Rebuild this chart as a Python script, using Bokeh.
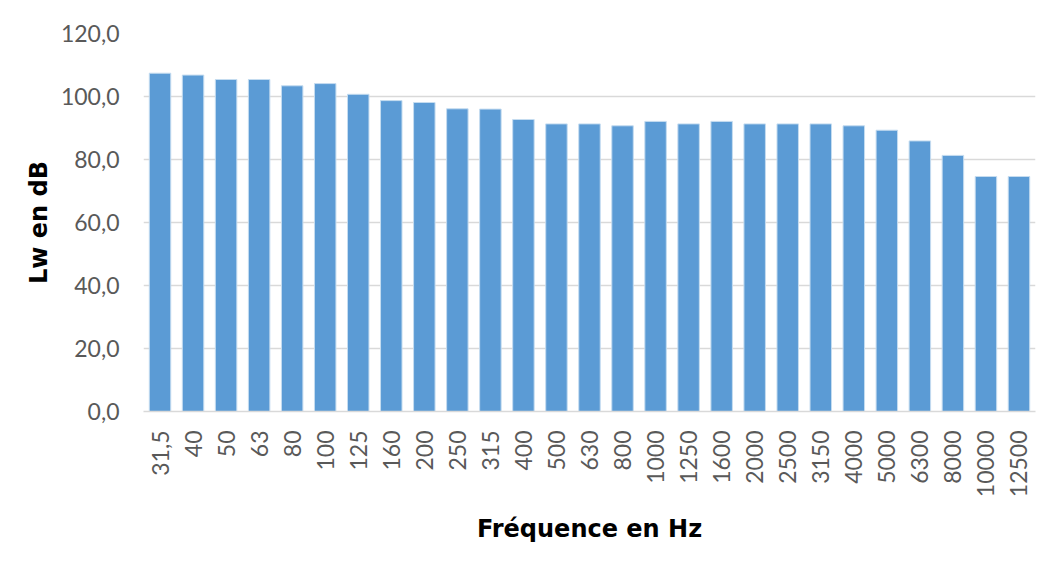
import math
from bokeh.plotting import figure
from bokeh.models import ColumnDataSource, FactorRange, Range1d, FixedTicker
from bokeh.embed import file_html
from bokeh.resources import INLINE

frequencies = ["31,5", "40", "50", "63", "80", "100", "125", "160", "200", "250",
               "315", "400", "500", "630", "800", "1000", "1250", "1600", "2000",
               "2500", "3150", "4000", "5000", "6300", "8000", "10000", "12500"]
lw_db = [107.4, 106.8, 105.4, 105.4, 103.4, 104.1, 100.7, 98.7, 98.1, 96.1,
         96.0, 92.7, 91.3, 91.3, 90.7, 92.1, 91.3, 92.1, 91.3,
         91.3, 91.3, 90.7, 89.3, 85.9, 81.3, 74.6, 74.6]
y_ticks = [0, 20, 40, 60, 80, 100, 120]
y_tick_labels = ["0,0", "20,0", "40,0", "60,0", "80,0", "100,0", "120,0"]

FONT = "Lato"
TITLE_FONT = "DejaVu Sans"
src = ColumnDataSource(dict(f=frequencies, v=lw_db))

p = figure(width=1039, height=557, x_range=FactorRange(*frequencies),
           y_range=Range1d(0, 120), output_backend="svg", toolbar_location=None,
           min_border_left=143, min_border_right=4, min_border_top=33,
           min_border_bottom=146)
p.vbar(x="f", top="v", width=0.65, source=src, fill_color="#5B9BD5",
       line_color="#C5DCF0", line_width=1)

p.outline_line_color = None
p.background_fill_color = "white"
p.border_fill_color = "white"
p.xgrid.grid_line_color = None
p.ygrid.grid_line_color = "#D9D9D9"
p.ygrid.grid_line_width = 1.5
p.x_range.range_padding = 0
p.x_range.group_padding = 0

p.yaxis.ticker = FixedTicker(ticks=y_ticks)
p.yaxis.major_label_overrides = {t: s for t, s in zip(y_ticks, y_tick_labels)}
p.yaxis.axis_line_color = None
p.yaxis.major_tick_line_color = None
p.yaxis.minor_tick_line_color = None
p.yaxis.major_label_standoff = 18
p.yaxis.major_label_text_font = FONT
p.yaxis.major_label_text_font_size = "23px"
p.yaxis.major_label_text_color = "#595959"
p.yaxis.axis_label = "Lw en dB"
p.yaxis.axis_label_text_font = TITLE_FONT
p.yaxis.axis_label_text_font_style = "bold"
p.yaxis.axis_label_text_font_size = "24px"
p.yaxis.axis_label_text_color = "#000000"
p.yaxis.axis_label_standoff = 5

p.xaxis.axis_line_color = "#D9D9D9"
p.xaxis.axis_line_width = 1.5
p.xaxis.major_tick_line_color = None
p.xaxis.minor_tick_line_color = None
p.xaxis.major_label_orientation = math.pi / 2
p.xaxis.major_label_standoff = 13
p.xaxis.major_label_text_font = FONT
p.xaxis.major_label_text_font_size = "23px"
p.xaxis.major_label_text_color = "#595959"
p.xaxis.axis_label = "Fréquence en Hz"
p.xaxis.axis_label_text_font = TITLE_FONT
p.xaxis.axis_label_text_font_style = "bold"
p.xaxis.axis_label_text_font_size = "24px"
p.xaxis.axis_label_text_color = "#000000"
p.xaxis.axis_label_standoff = 15

open("out.html", "w").write(file_html(p, INLINE))
